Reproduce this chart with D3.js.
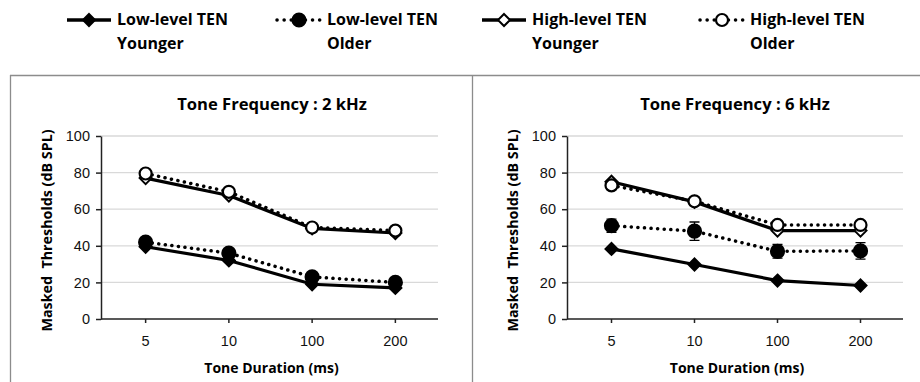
<!DOCTYPE html>
<html>
<head>
<meta charset="utf-8">
<script src="https://cdn.jsdelivr.net/npm/d3@7/dist/d3.min.js"></script>
<style>
  body { margin: 0; background: #fff; }
  svg { display: block; font-family: "Open Sans", "Liberation Sans", sans-serif; }
  .grid line { stroke: #d9d9d9; stroke-width: 1.3; }
  .axis path, .axis line { stroke: #222; stroke-width: 1.5; }
  .axis text { font-size: 14.5px; fill: #111; }
</style>
</head>
<body>
<div id="chart"></div>
<script>
var durations = ["5", "10", "100", "200"];
var yTicks = [0, 20, 40, 60, 80, 100];

// 2 kHz panel
var low2Younger  = [39.5, 32, 19, 17];
var low2Older    = [42, 36, 23, 20];
var high2Younger = [77, 67.5, 49.5, 47];
var high2Older   = [79.5, 69.5, 50, 48.3];

// 6 kHz panel
var low6Younger  = [38.3, 29.8, 21, 18.3];
var low6Older    = [51, 48, 37, 37.2];
var low6OlderErr = [3.6, 5, 3.7, 4.5];
var high6Younger = [75, 64, 48.3, 48.3];
var high6Older   = [73, 64.3, 51.4, 51.4];
var high6OlderErr = [2, 1, 1, 1];

var seriesNames = ["Low-level TEN|Younger", "Low-level TEN|Older", "High-level TEN|Younger", "High-level TEN|Older"];

var W = 920, H = 382;
var svg = d3.select("#chart").append("svg")
  .attr("width", W)
  .attr("height", H);

// panel frames
svg.append("line").attr("x1", 10).attr("x2", W).attr("y1", 75.5).attr("y2", 75.5)
  .attr("stroke", "#8c8c8c").attr("stroke-width", 1.3);
svg.append("line").attr("x1", 10.5).attr("x2", 10.5).attr("y1", 75).attr("y2", H)
  .attr("stroke", "#8c8c8c").attr("stroke-width", 1.3);
svg.append("line").attr("x1", 472.5).attr("x2", 472.5).attr("y1", 75).attr("y2", H)
  .attr("stroke", "#8c8c8c").attr("stroke-width", 1.3);

// marker drawing
function marker(g, type, x, y) {
  if (type == "diamondFilled" || type == "diamondOpen") {
    g.append("path")
      .attr("d", "M" + x + "," + (y - 6) + "L" + (x + 6) + "," + y + "L" + x + "," + (y + 6) + "L" + (x - 6) + "," + y + "Z")
      .attr("fill", type == "diamondFilled" ? "#000" : "#fff")
      .attr("stroke", "#000").attr("stroke-width", 2);
  } else {
    g.append("circle").attr("cx", x).attr("cy", y).attr("r", type == "circleFilled" ? 6.5 : 6)
      .attr("fill", type == "circleFilled" ? "#000" : "#fff")
      .attr("stroke", "#000").attr("stroke-width", 2.2);
  }
}

function drawPanel(opt) {
  var x = d3.scaleBand().domain(durations).range([opt.left + 3, opt.right - 1]);
  var y = d3.scaleLinear().domain([0, 100]).range([319, 136]);
  var g = svg.append("g");

  g.append("g").attr("class", "grid")
    .selectAll("line").data(yTicks.slice(1)).enter().append("line")
    .attr("x1", opt.left).attr("x2", opt.right)
    .attr("y1", function(d) { return y(d); }).attr("y2", function(d) { return y(d); });

  g.append("g").attr("class", "axis")
    .attr("transform", "translate(" + opt.left + ",0)")
    .call(d3.axisLeft(y).tickValues(yTicks).tickSize(5).tickPadding(6).tickSizeOuter(0));

  var xAxis = g.append("g").attr("class", "axis")
    .attr("transform", "translate(0," + y(0) + ")")
    .call(d3.axisBottom(x).tickSize(4).tickPadding(13).tickSizeOuter(0));
  xAxis.select(".domain").attr("d", "M" + opt.left + ",0H" + opt.right);

  g.append("text").attr("x", opt.titleX).attr("y", 110)
    .attr("text-anchor", "middle").attr("font-size", 16.6).attr("font-weight", "bold")
    .text(opt.title);
  g.append("text").attr("x", (opt.left + opt.right) / 2 + 2).attr("y", 373)
    .attr("text-anchor", "middle").attr("font-size", 14).attr("font-weight", "bold")
    .text("Tone Duration (ms)");
  g.append("text")
    .attr("transform", "translate(" + (opt.left - 49) + "," + ((y(0) + y(100)) / 2 + 3) + ") rotate(-90)")
    .attr("text-anchor", "middle").attr("font-size", 14.3).attr("font-weight", "bold")
    .style("white-space", "pre")
    .text("Masked  Thresholds (dB SPL)");

  var cx = function(i) { return x(durations[i]) + x.bandwidth() / 2; };
  var line = d3.line().x(function(d, i) { return cx(i); }).y(function(d) { return y(d); });

  opt.series.forEach(function(s) {
    g.append("path").datum(s.values).attr("d", line)
      .attr("fill", "none").attr("stroke", "#000")
      .attr("stroke-width", s.dotted ? 3.5 : 3.2)
      .attr("stroke-dasharray", s.dotted ? "0.1,6.5" : null)
      .attr("stroke-linecap", s.dotted ? "round" : "butt");
    if (s.err) {
      s.values.forEach(function(v, i) {
        var e = s.err[i];
        g.append("path")
          .attr("d", "M" + (cx(i) - 5) + "," + y(v + e) + "H" + (cx(i) + 5) +
            "M" + cx(i) + "," + y(v + e) + "V" + y(v - e) +
            "M" + (cx(i) - 5) + "," + y(v - e) + "H" + (cx(i) + 5))
          .attr("stroke", "#000").attr("stroke-width", 1.3).attr("fill", "none");
      });
    }
  });
  opt.series.forEach(function(s) {
    s.values.forEach(function(v, i) { marker(g, s.marker, cx(i), y(v)); });
  });
}

drawPanel({
  left: 101, right: 438, titleX: 272, title: "Tone Frequency : 2 kHz",
  series: [
    { values: low2Younger, marker: "diamondFilled", dotted: false },
    { values: low2Older, marker: "circleFilled", dotted: true },
    { values: high2Younger, marker: "diamondOpen", dotted: false },
    { values: high2Older, marker: "circleOpen", dotted: true }
  ]
});

drawPanel({
  left: 567, right: 903, titleX: 735, title: "Tone Frequency : 6 kHz",
  series: [
    { values: low6Younger, marker: "diamondFilled", dotted: false },
    { values: low6Older, marker: "circleFilled", dotted: true, err: low6OlderErr },
    { values: high6Younger, marker: "diamondOpen", dotted: false },
    { values: high6Older, marker: "circleOpen", dotted: true, err: high6OlderErr }
  ]
});

// legend
var legendX = [67, 277, 482, 700];
var legendMarkers = ["diamondFilled", "circleFilled", "diamondOpen", "circleOpen"];
var legend = svg.append("g");
seriesNames.forEach(function(name, i) {
  var lx = legendX[i];
  var dotted = i % 2 == 1;
  legend.append("line").attr("x1", lx).attr("x2", lx + 44).attr("y1", 20).attr("y2", 20)
    .attr("stroke", "#000").attr("stroke-width", 3.5)
    .attr("stroke-dasharray", dotted ? "0.1,7" : null)
    .attr("stroke-linecap", dotted ? "round" : "butt");
  var lm = legend.append("g");
  marker(lm, legendMarkers[i], lx + 22, 20);
  var parts = name.split("|");
  legend.append("text").attr("x", lx + 50).attr("y", 25)
    .attr("font-size", 16).attr("font-weight", "bold").text(parts[0]);
  legend.append("text").attr("x", lx + 50).attr("y", 49)
    .attr("font-size", 16).attr("font-weight", "bold").text(parts[1]);
});
</script>
</body>
</html>
